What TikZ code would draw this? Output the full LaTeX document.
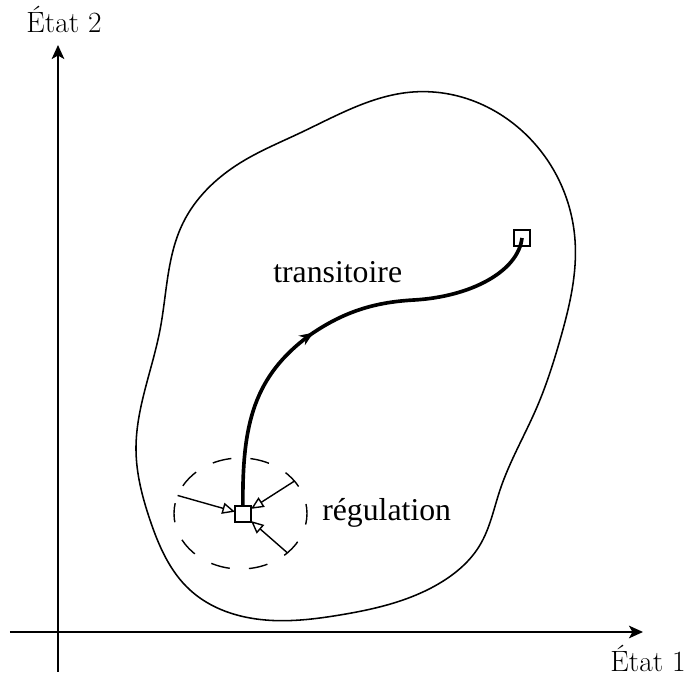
\documentclass[tikz,border=0pt]{standalone}
\usepackage{fontspec}
\newfontfamily\timesfont{Liberation Serif}
\usetikzlibrary{arrows.meta, shapes.geometric, decorations.markings, hobby}

\begin{document}
\begin{tikzpicture}[
	axis/.style={line width=1.1pt, -{Stealth[length=10pt,width=9pt,inset=2.5pt]}},
	region/.style={line width=1.1pt},
	state/.style={draw, line width=1pt, minimum size=0.4cm, inner sep=0pt, outer sep=0pt},
	traj/.style={line width=2.6pt, postaction={decorate},
		decoration={markings, mark=at position 0.45 with {\arrow{Stealth[length=10pt,width=8pt]}}}},
	pert/.style={line width=1pt, -{Triangle[open,length=9pt,width=8pt]}},
	label/.style={font=\timesfont\fontsize{22.6}{26}\selectfont, inner sep=0pt},
	axlabel/.style={font=\fontsize{20.9}{24}\selectfont, anchor=base, inner sep=0pt}
]
	\useasboundingbox (-1.45,-1.125) rectangle (15.75,15.8);
	% axes
	\draw[axis] (0,-1.0) -- (0,14.675);
	\draw[axis] (-1.2,0) -- (14.625,0);
	\node[axlabel] (e2) at (0.15,14.975) {État 2};
	\node[axlabel] (e1) at (14.75,-1.0) {État 1};
	% domaine
	\draw[region, use Hobby shortcut, closed=true] (8.875,13.5) .. (12.05,12.05) .. (12.925,9.8)
		.. (12.55,7.3) .. (11.975,5.625) .. (11.05,3.55) .. (10.55,2.175) .. (9.55,1.225)
		.. (7.05,0.425) .. (4.8,0.35) .. (3.3,1.05) .. (2.3,2.8) .. (1.95,4.55)
		.. (2.55,7.55) .. (3.125,10.225) .. (4.55,11.725) .. (6.05,12.475);
	% etats
	\node[ellipse, draw, line width=1pt, dash pattern=on 13.6pt off 13.6pt, dash phase=6.8pt,
		minimum width=3.325cm, minimum height=2.775cm, inner sep=0pt, outer sep=0pt] (reg) at (4.5625,2.9625) {};
	\node[state] (start) at (4.625,2.95) {};
	\node[state] (end) at (11.6,9.85) {};
	\draw[traj] (start) .. controls (4.6,5.2) and (4.9,6.4) .. (6.3,7.425)
		.. controls (7.2,8.05) and (8.0,8.25) .. (8.9,8.3)
		.. controls (10.3,8.38) and (11.5,9.0) .. (end.center);
	\draw[pert] (reg.164.6) -- (start);
	\draw[pert] (reg.31.3) -- (start);
	\draw[pert] (reg.-40.2) -- (start);
	\node[label, anchor=base west] (tr) at (5.375,8.725) {transitoire};
	\node[label, anchor=base west] (rg) at (6.6,2.775) {régulation};
\end{tikzpicture}
\end{document}
